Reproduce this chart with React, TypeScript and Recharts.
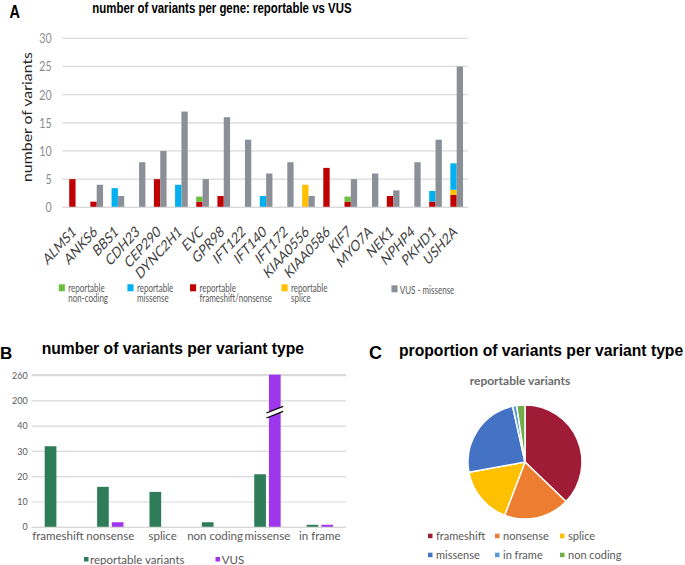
import { BarChart, Bar, XAxis, YAxis, CartesianGrid, PieChart, Pie, Cell } from 'recharts';

// panel A: variants per gene
const genes = [
  'ALMS1', 'ANKS6', 'BBS1', 'CDH23', 'CEP290', 'DYNC2H1', 'EVC', 'GPR98', 'IFT122', 'IFT140',
  'IFT172', 'KIAA0556', 'KIAA0586', 'KIF7', 'MYO7A', 'NEK1', 'NPHP4', 'PKHD1', 'USH2A',
];
const repFrameshiftNonsense = [5, 1, 0, 0, 5, 0, 1, 2, 0, 0, 0, 0, 7, 1, 0, 2, 0, 1, 2.2];
const repSplice = [0, 0, 0, 0, 0, 0, 0, 0, 0, 0, 0, 4, 0, 0, 0, 0, 0, 0, 0.9];
const repMissense = [0, 0, 3.4, 0, 0, 4, 0, 0, 0, 2, 0, 0, 0, 0, 0, 0, 0, 1.9, 4.7];
const repNonCoding = [0, 0, 0, 0, 0, 0, 0.9, 0, 0, 0, 0, 0, 0, 0.9, 0, 0, 0, 0, 0];
const vusMissense = [0, 4, 2, 8, 10, 17, 5, 16, 12, 6, 8, 2, 0, 5, 6, 3, 8, 12, 25];
const geneTicks = [0, 5, 10, 15, 20, 25, 30];

// panel B / C: variants per type
const variantTypes = ['frameshift', 'nonsense', 'splice', 'non coding', 'missense', 'in frame'];
const reportableCounts = [32, 16, 14, 2, 21, 1];
const vusCounts = [0, 2, 0, 0, 262, 1];
const brokenTicks = [0, 10, 20, 30, 40, 200, 260];

const pieTypes = ['frameshift', 'nonsense', 'splice', 'missense', 'in frame', 'non coding'];
const pieCounts = [32, 16, 14, 21, 1, 2];
const pieColors = ['#a01c36', '#ed7d31', '#ffc000', '#4472c4', '#5b9bd5', '#70ad47'];

const C = {
  red: '#c00000',
  orange: '#ffc000',
  blue: '#00b0f0',
  green: '#6abf3c',
  gray: '#8b9098',
  grid: '#d9d9d9',
  text: '#595959',
  teal: '#2f7d58',
  purple: '#a035ee',
};

const SANS = 'Lato, "Open Sans", sans-serif';
const ARIAL = '"Liberation Sans", Arial, sans-serif';

// panel A was squeezed sideways in the original figure
const SQUEEZE = 0.763;

// position on the broken axis: every labelled tick is 10 units apart
function toAxis(v: number) {
  for (let i = 1; i < brokenTicks.length; i++) {
    if (v <= brokenTicks[i]) {
      const a = brokenTicks[i - 1];
      const b = brokenTicks[i];
      return (i - 1) * 10 + ((v - a) / (b - a)) * 10;
    }
  }
  const n = brokenTicks.length - 1;
  return n * 10 + ((v - brokenTicks[n]) / (brokenTicks[n] - brokenTicks[n - 1])) * 10;
}

const geneData = genes.map((gene, i) => ({
  gene,
  fsn: repFrameshiftNonsense[i],
  splice: repSplice[i],
  missense: repMissense[i],
  nonCoding: repNonCoding[i],
  vus: vusMissense[i],
}));

const typeData = variantTypes.map((type, i) => ({
  type,
  reportable: toAxis(reportableCounts[i]),
  vus: toAxis(vusCounts[i]),
}));

const pieData = pieTypes.map((name, i) => ({ name, value: pieCounts[i] }));

function GeneTick({ x, y, payload }: any) {
  const ax = x + 2;
  const ay = y + 18;
  return (
    <text
      x={ax}
      y={ay}
      transform={`rotate(-40 ${ax} ${ay})`}
      textAnchor="end"
      fontSize={15.5}
      fill="#404040"
      fontFamily={SANS}
    >
      {payload.value}
    </text>
  );
}

// VUS bar with the axis-break mark drawn across the tall one
function VusShape(props: any) {
  const { x, y, width, height, fill, payload } = props;
  if (!height || height <= 0) return null;
  const bar = <rect x={x} y={y} width={width} height={height} fill={fill} />;
  if (payload.vus <= 50) return bar;
  const yc = y + height * (1 - 45.5 / payload.vus);
  const x0 = x - 2.5;
  const x1 = x + width + 2.5;
  const s = 3.3;
  return (
    <g>
      {bar}
      <polygon
        points={`${x0},${yc + 2.5 + s} ${x1},${yc + 2.5 - s} ${x1},${yc - 2.5 - s} ${x0},${yc - 2.5 + s}`}
        fill="#fff"
      />
      <line x1={x0} y1={yc + 2.5 + s} x2={x1} y2={yc + 2.5 - s} stroke="#000" strokeWidth={1.2} />
      <line x1={x0} y1={yc - 2.5 + s} x2={x1} y2={yc - 2.5 - s} stroke="#000" strokeWidth={1.2} />
    </g>
  );
}

const legendA = [
  { color: C.green, x: 77, lines: ['reportable', 'non-coding'] },
  { color: C.blue, x: 167, lines: ['reportable', 'missense'] },
  { color: C.red, x: 249, lines: ['reportable', 'frameshift/nonsense'] },
  { color: C.orange, x: 369, lines: ['reportable', 'splice'] },
];

const legendC = [
  { x: 428, y: 536 },
  { x: 495, y: 536 },
  { x: 560, y: 536 },
  { x: 428, y: 555 },
  { x: 495, y: 555 },
  { x: 560, y: 555 },
];

export default function App() {
  return (
    <div
      style={{
        position: 'absolute',
        left: 0,
        top: 0,
        width: 685,
        height: 565,
        background: '#fff',
        overflow: 'hidden',
      }}
    >
      {/* A */}
      <div
        style={{
          position: 'absolute',
          left: 0,
          top: 0,
          width: 640,
          height: 310,
          transform: `scaleX(${SQUEEZE})`,
          transformOrigin: '0 0',
        }}
      >
        <div style={{ position: 'absolute', left: 0, top: 0 }}>
          <BarChart
            width={640}
            height={290}
            data={geneData}
            margin={{ top: 38.3, right: 27, bottom: 15, left: 0 }}
            barGap={0}
            barSize={8.3}
          >
            <CartesianGrid vertical={false} stroke={C.grid} strokeWidth={1.3} />
            <XAxis
              dataKey="gene"
              interval={0}
              height={67.7}
              tickLine={false}
              axisLine={{ stroke: C.grid, strokeWidth: 1.3 }}
              tick={<GeneTick />}
              padding={{ left: 3, right: 1 }}
            />
            <YAxis
              width={81.7}
              domain={[0, 30]}
              ticks={geneTicks}
              tickLine={false}
              axisLine={false}
              tickMargin={8}
              tick={{ fontSize: 14, fill: '#8c8c8c', fontFamily: SANS }}
              label={{
                content: () => (
                  <text
                    transform="translate(42 117) rotate(-90)"
                    textAnchor="middle"
                    fontSize={17.5}
                    textLength={130}
                    lengthAdjust="spacingAndGlyphs"
                    fill="#262626"
                    fontFamily={SANS}
                  >
                    number of variants
                  </text>
                ),
              }}
            />
            <Bar dataKey="fsn" stackId="rep" fill={C.red} isAnimationActive={false} />
            <Bar dataKey="splice" stackId="rep" fill={C.orange} isAnimationActive={false} />
            <Bar dataKey="missense" stackId="rep" fill={C.blue} isAnimationActive={false} />
            <Bar dataKey="nonCoding" stackId="rep" fill={C.green} isAnimationActive={false} />
            <Bar dataKey="vus" stackId="vus" fill={C.gray} isAnimationActive={false} />
          </BarChart>
        </div>
        <svg width={640} height={310} style={{ position: 'absolute', left: 0, top: 0, pointerEvents: 'none' }}>
          <text x={12.5} y={18.5} fontSize={19} fontWeight="bold" fontFamily={ARIAL} fill="#000">A</text>
          <text x={121} y={13.5} fontSize={15} fontWeight="bold" fontFamily={ARIAL} fill="#000">
            number of variants per gene: reportable vs VUS
          </text>
          {legendA.map((l) => (
            <g key={l.x}>
              <rect x={l.x} y={284.3} width={8} height={7} fill={l.color} />
              <text x={l.x + 12.5} y={291.7} fontSize={10.5} fontFamily={SANS} fill={C.text}>{l.lines[0]}</text>
              <text x={l.x + 12.5} y={302} fontSize={10.5} fontFamily={SANS} fill={C.text}>{l.lines[1]}</text>
            </g>
          ))}
          <rect x={513} y={285.3} width={8} height={7} fill={C.gray} />
          <text x={524} y={294} fontSize={10.5} fontFamily={SANS} fill={C.text}>VUS - missense</text>
        </svg>
      </div>

      {/* B */}
      <div style={{ position: 'absolute', left: 0, top: 360 }}>
        <BarChart
          width={360}
          height={190}
          data={typeData}
          margin={{ top: 14.7, right: 14, bottom: 0, left: 0 }}
          barGap={3}
          barSize={11.7}
        >
          <CartesianGrid vertical={false} stroke={C.grid} strokeWidth={1.2} />
          <XAxis
            dataKey="type"
            interval={0}
            height={22.7}
            tickLine={false}
            tickSize={0}
            tickMargin={4.5}
            axisLine={{ stroke: C.grid, strokeWidth: 1.2 }}
            tick={{ fontSize: 11.5, fill: C.text, fontFamily: SANS }}
          />
          <YAxis
            width={31.7}
            domain={[0, 60]}
            ticks={[0, 10, 20, 30, 40, 50, 60]}
            tickFormatter={(v: number) => String(brokenTicks[Math.round(v / 10)])}
            tickLine={false}
            tickSize={0}
            axisLine={false}
            tickMargin={4}
            tick={{ fontSize: 9, fill: C.text, fontFamily: SANS }}
          />
          <Bar dataKey="reportable" fill={C.teal} isAnimationActive={false} />
          <Bar dataKey="vus" fill={C.purple} shape={<VusShape />} isAnimationActive={false} />
        </BarChart>
      </div>

      {/* C */}
      <div style={{ position: 'absolute', left: 420, top: 387 }}>
        <PieChart width={200} height={140}>
          <Pie
            data={pieData}
            dataKey="value"
            nameKey="name"
            cx={100}
            cy={70}
            outerRadius={57}
            startAngle={90}
            endAngle={-270}
            stroke="#fff"
            strokeWidth={1.5}
            isAnimationActive={false}
          >
            {pieData.map((d, i) => (
              <Cell key={d.name} fill={pieColors[i]} />
            ))}
          </Pie>
        </PieChart>
      </div>

      {/* titles and legends of B and C */}
      <svg width={685} height={565} style={{ position: 'absolute', left: 0, top: 0, pointerEvents: 'none' }}>
        <text x={0} y={358.5} fontSize={17} fontWeight="bold" fontFamily={ARIAL} fill="#000">B</text>
        <text x={41.7} y={354} fontSize={15.7} fontWeight="bold" fontFamily={ARIAL} fill="#000">
          number of variants per variant type
        </text>
        <rect x={84} y={557} width={4.5} height={4.5} fill={C.teal} />
        <text x={90} y={563.5} fontSize={11.5} fontFamily={SANS} fill={C.text}>reportable variants</text>
        <rect x={215.5} y={557} width={4.5} height={4.5} fill={C.purple} />
        <text x={221.7} y={563.5} fontSize={11.5} fontFamily={SANS} fill={C.text}>VUS</text>

        <text x={369} y={358.5} fontSize={18} fontWeight="bold" fontFamily={ARIAL} fill="#000">C</text>
        <text x={399} y={356} fontSize={15.7} fontWeight="bold" fontFamily={ARIAL} fill="#000">
          proportion of variants per variant type
        </text>
        <text x={520} y={384.5} textAnchor="middle" fontSize={12} fontWeight="bold" fontFamily={SANS} fill="#6b6b6b">
          reportable variants
        </text>
        {pieTypes.map((name, i) => (
          <g key={name}>
            <rect x={legendC[i].x} y={legendC[i].y - 2.3} width={4.5} height={4.5} fill={pieColors[i]} />
            <text x={legendC[i].x + 8} y={legendC[i].y + 4} fontSize={11} fontFamily={SANS} fill={C.text}>
              {name}
            </text>
          </g>
        ))}
      </svg>
    </div>
  );
}
